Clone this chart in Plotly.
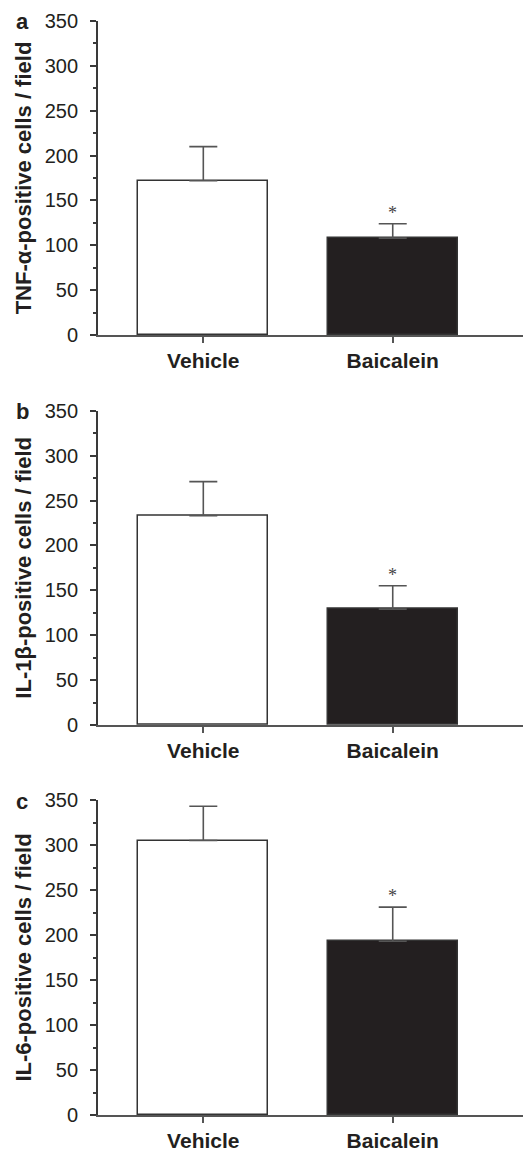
import plotly.graph_objects as go

categories = ["Vehicle", "Baicalein"]
tnf_mean = [172, 108]
tnf_sem = [38, 16]
il1b_mean = [233, 129]
il1b_sem = [38, 26]
il6_mean = [305, 193]
il6_sem = [38, 38]

panel_letters = ["a", "b", "c"]
y_titles = ["TNF-α-positive cells / field", "IL-1β-positive cells / field", "IL-6-positive cells / field"]
y_ticks = [0, 50, 100, 150, 200, 250, 300, 350]
bar_colors = ["#ffffff", "#231f20"]

means = [tnf_mean, il1b_mean, il6_mean]
sems = [tnf_sem, il1b_sem, il6_sem]

# the page body has an 8px margin, so the figure is drawn 8px in from the top-left
OFF = 8
W, H = 531 - OFF, 1151 - OFF
# plot area pixel extents (top, bottom) for each panel, in page pixels
panel_px = [(21, 335), (410.7, 725), (800, 1115)]
x_left_px = 98 - OFF

fig = go.Figure()
FONT = "Liberation Sans, Arial, Helvetica, sans-serif"
AX = "#3a3a3a"

for i in range(3):
    n = "" if i == 0 else str(i + 1)
    xa = "x" + n
    ya = "y" + n
    fig.add_trace(go.Bar(
        x=categories, y=means[i],
        marker=dict(color=bar_colors, line=dict(color="#333333", width=1.5)),
        width=0.685,
        error_y=dict(type="data", symmetric=False, array=sems[i], arrayminus=[0, 0],
                     color="#555555", thickness=1.6, width=14),
        xaxis=xa, yaxis=ya, showlegend=False,
    ))
    top, bot = panel_px[i]
    top -= OFF
    bot -= OFF
    dom_y = [1 - bot / H, 1 - top / H]
    fig.layout["xaxis" + n] = dict(
        domain=[x_left_px / W, 1], anchor=ya, type="category",
        range=[-0.556, 1.73], showline=True, linecolor="#555555", linewidth=1.6,
        ticks="outside", ticklen=6, tickcolor="#555555", tickwidth=1.5,
        tickfont=dict(family=FONT, size=21, color="#231f20", weight="bold"),
        ticklabelstandoff=0, showgrid=False, zeroline=False, fixedrange=True,
        automargin=False,
    )
    fig.layout["yaxis" + n] = dict(
        domain=dom_y, anchor=xa, range=[0, 350],
        tickvals=y_ticks, showline=True, linecolor=AX, linewidth=1.8,
        ticks="outside", ticklen=6, tickcolor=AX, tickwidth=1.5,
        minor=dict(ticks="outside", ticklen=3, dtick=25, tickcolor=AX, tickwidth=1.5, showgrid=False),
        tickfont=dict(family=FONT, size=20, color="#231f20"),
        ticklabelstandoff=8,
        title=dict(text=y_titles[i], font=dict(family=FONT, size=22, color="#231f20", weight="bold"),
                   standoff=7),
        showgrid=False, zeroline=False, fixedrange=True, automargin=False,
    )
    # panel letter
    fig.add_annotation(text="<b>" + panel_letters[i] + "</b>", xref="paper", yref="paper",
                       x=(22 - OFF) / W, y=1 - (top + 1) / H, xanchor="center", yanchor="middle",
                       showarrow=False, font=dict(family=FONT, size=22, color="#231f20"))
    # significance asterisk
    fig.add_annotation(text="*", xref=xa, yref=ya, x=categories[1],
                       y=means[i][1] + sems[i][1], yanchor="bottom", yshift=-1,
                       showarrow=False, font=dict(family="Liberation Serif, serif", size=18, color="#444444"))

fig.update_layout(
    width=W, height=H, margin=dict(l=0, r=0, t=0, b=0),
    plot_bgcolor="white", paper_bgcolor="white", bargap=0,
)

fig.write_html("out.html")
